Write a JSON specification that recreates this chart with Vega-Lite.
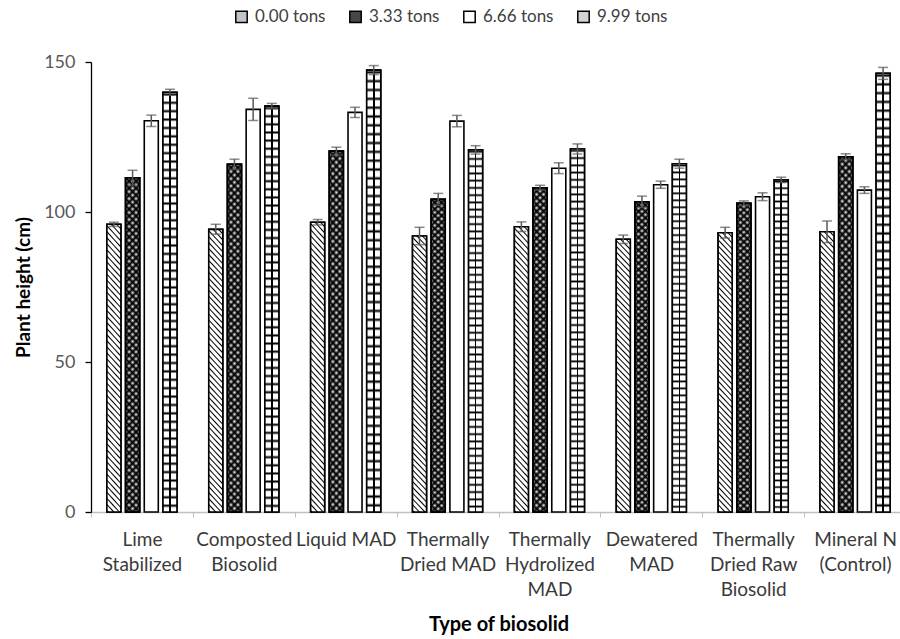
{
"$schema": "https://vega.github.io/schema/vega-lite/v6.json",
"width": 808, "height": 450,
"autosize": "none",
"padding": {"left": 91, "top": 62, "right": 1, "bottom": 127},
"config": {"font": "Lato", "view": {"stroke": null}, "axis": {"grid": false}},
"data": {"values": [
{"biosolid":"Lime Stabilized","dose":"0.00 tons","height":95.9,"low":95.2,"high":96.6},
{"biosolid":"Lime Stabilized","dose":"3.33 tons","height":111.4,"low":108.9,"high":113.9},
{"biosolid":"Lime Stabilized","dose":"6.66 tons","height":130.4,"low":128.5,"high":132.3},
{"biosolid":"Lime Stabilized","dose":"9.99 tons","height":139.9,"low":138.9,"high":140.9},
{"biosolid":"Composted Biosolid","dose":"0.00 tons","height":94.2,"low":92.6,"high":95.9},
{"biosolid":"Composted Biosolid","dose":"3.33 tons","height":115.9,"low":114.2,"high":117.6},
{"biosolid":"Composted Biosolid","dose":"6.66 tons","height":134.2,"low":130.5,"high":137.9},
{"biosolid":"Composted Biosolid","dose":"9.99 tons","height":135.3,"low":134.4,"high":136.2},
{"biosolid":"Liquid MAD","dose":"0.00 tons","height":96.6,"low":95.7,"high":97.5},
{"biosolid":"Liquid MAD","dose":"3.33 tons","height":120.3,"low":119.0,"high":121.6},
{"biosolid":"Liquid MAD","dose":"6.66 tons","height":133.2,"low":131.5,"high":134.9},
{"biosolid":"Liquid MAD","dose":"9.99 tons","height":147.3,"low":145.8,"high":148.8},
{"biosolid":"Thermally Dried MAD","dose":"0.00 tons","height":92.0,"low":89.1,"high":94.9},
{"biosolid":"Thermally Dried MAD","dose":"3.33 tons","height":104.2,"low":102.2,"high":106.2},
{"biosolid":"Thermally Dried MAD","dose":"6.66 tons","height":130.3,"low":128.4,"high":132.2},
{"biosolid":"Thermally Dried MAD","dose":"9.99 tons","height":120.7,"low":119.3,"high":122.1},
{"biosolid":"Thermally Hydrolized MAD","dose":"0.00 tons","height":95.1,"low":93.5,"high":96.7},
{"biosolid":"Thermally Hydrolized MAD","dose":"3.33 tons","height":108.1,"low":107.3,"high":108.9},
{"biosolid":"Thermally Hydrolized MAD","dose":"6.66 tons","height":114.6,"low":112.8,"high":116.4},
{"biosolid":"Thermally Hydrolized MAD","dose":"9.99 tons","height":121.0,"low":119.3,"high":122.7},
{"biosolid":"Dewatered MAD","dose":"0.00 tons","height":90.9,"low":89.5,"high":92.3},
{"biosolid":"Dewatered MAD","dose":"3.33 tons","height":103.4,"low":101.5,"high":105.3},
{"biosolid":"Dewatered MAD","dose":"6.66 tons","height":109.1,"low":107.9,"high":110.3},
{"biosolid":"Dewatered MAD","dose":"9.99 tons","height":116.1,"low":114.6,"high":117.6},
{"biosolid":"Thermally Dried Raw Biosolid","dose":"0.00 tons","height":93.1,"low":91.3,"high":94.9},
{"biosolid":"Thermally Dried Raw Biosolid","dose":"3.33 tons","height":102.9,"low":102.1,"high":103.7},
{"biosolid":"Thermally Dried Raw Biosolid","dose":"6.66 tons","height":105.1,"low":103.8,"high":106.4},
{"biosolid":"Thermally Dried Raw Biosolid","dose":"9.99 tons","height":110.7,"low":109.8,"high":111.6},
{"biosolid":"Mineral N (Control)","dose":"0.00 tons","height":93.4,"low":89.8,"high":97.0},
{"biosolid":"Mineral N (Control)","dose":"3.33 tons","height":118.4,"low":117.4,"high":119.4},
{"biosolid":"Mineral N (Control)","dose":"6.66 tons","height":107.3,"low":106.2,"high":108.4},
{"biosolid":"Mineral N (Control)","dose":"9.99 tons","height":146.2,"low":144.2,"high":148.2}
]},
"encoding": {
  "x": {"field": "biosolid", "type": "nominal",
    "sort": ["Lime Stabilized","Composted Biosolid","Liquid MAD","Thermally Dried MAD","Thermally Hydrolized MAD","Dewatered MAD","Thermally Dried Raw Biosolid","Mineral N (Control)"],
    "scale": {"range": [0, 815], "paddingInner": 0, "paddingOuter": 0},
    "axis": {"title": "Type of biosolid", "titleFontSize": 20, "titleFontWeight": "bold", "titleColor": "#000", "titleY": 118, "titleBaseline": "alphabetic",
      "labelAngle": 0, "labelFontSize": 19, "labelColor": "#3a3a3a", "labelLineHeight": 25, "labelPadding": 13, "labelLimit": 0,
      "tickBand": "extent", "tickSize": 5, "tickColor": "#bfbfbf", "domainColor": "#bfbfbf", "domainWidth": 1.3,
      "labelExpr": "!isValid(datum.value) ? '' : datum.value == 'Liquid MAD' ? 'Liquid MAD' : datum.value == 'Thermally Hydrolized MAD' ? ['Thermally','Hydrolized','MAD'] : datum.value == 'Thermally Dried Raw Biosolid' ? ['Thermally','Dried Raw','Biosolid'] : datum.value == 'Mineral N (Control)' ? ['Mineral N','(Control)'] : datum.value == 'Thermally Dried MAD' ? ['Thermally','Dried MAD'] : split(datum.value, ' ')"}},
  "xOffset": {"field": "dose", "type": "nominal", "sort": ["0.00 tons","3.33 tons","6.66 tons","9.99 tons"],
    "scale": {"domain": ["0.00 tons","3.33 tons","6.66 tons","9.99 tons"], "paddingInner": 0.25, "paddingOuter": 0.85}}
},
"layer": [
{
  "mark": {"type": "bar", "stroke": "#000", "strokeWidth": 1.6},
  "encoding": {
    "y": {"field": "height", "type": "quantitative", "title": "Plant height (cm)", "scale": {"domain": [0, 150], "nice": false},
      "axis": {"title": "Plant height (cm)", "titleFontSize": 19, "titleFontWeight": "bold", "titleColor": "#000", "titlePadding": 10,
        "values": [0, 50, 100, 150], "labelFontSize": 18, "labelColor": "#595959", "labelPadding": 10,
        "tickSize": 6, "tickColor": "#000", "tickWidth": 1.3, "domainColor": "#000", "domainWidth": 1.3}},
    "fill": {"field": "dose", "type": "nominal",
      "scale": {"domain": ["0.00 tons","3.33 tons","6.66 tons","9.99 tons"], "range": ["#c4c4c4", "#474747", "#ffffff", "#d4d4d4"]},
      "legend": {"orient": "none", "direction": "horizontal", "legendX": 142, "legendY": -54, "title": null,
        "symbolType": "square", "symbolSize": 130, "symbolStrokeColor": "#000", "symbolStrokeWidth": 1.5,
        "labelFontSize": 17, "labelColor": "#404040", "columnPadding": 20, "labelOffset": 5, "padding": 0}}
  }
},
{
  "transform": [{"filter": "datum.dose == '0.00 tons'"}],
  "mark": {"type": "bar", "stroke": "#000", "strokeWidth": 1.6, "fill": {"gradient":"linear","x1":0,"y1":1,"x2":0.0559,"y2":-0.0502,"stops":[
{"offset":0,"color":"#fff"},{"offset":0.005,"color":"#000"},{"offset":0.01,"color":"#fff"},
{"offset":0.02,"color":"#fff"},{"offset":0.025,"color":"#000"},{"offset":0.03,"color":"#fff"},
{"offset":0.04,"color":"#fff"},{"offset":0.045,"color":"#000"},{"offset":0.05,"color":"#fff"},
{"offset":0.06,"color":"#fff"},{"offset":0.065,"color":"#000"},{"offset":0.07,"color":"#fff"},
{"offset":0.08,"color":"#fff"},{"offset":0.085,"color":"#000"},{"offset":0.09,"color":"#fff"},
{"offset":0.1,"color":"#fff"},{"offset":0.105,"color":"#000"},{"offset":0.11,"color":"#fff"},
{"offset":0.12,"color":"#fff"},{"offset":0.125,"color":"#000"},{"offset":0.13,"color":"#fff"},
{"offset":0.14,"color":"#fff"},{"offset":0.145,"color":"#000"},{"offset":0.15,"color":"#fff"},
{"offset":0.16,"color":"#fff"},{"offset":0.165,"color":"#000"},{"offset":0.17,"color":"#fff"},
{"offset":0.18,"color":"#fff"},{"offset":0.185,"color":"#000"},{"offset":0.19,"color":"#fff"},
{"offset":0.2,"color":"#fff"},{"offset":0.205,"color":"#000"},{"offset":0.21,"color":"#fff"},
{"offset":0.22,"color":"#fff"},{"offset":0.225,"color":"#000"},{"offset":0.23,"color":"#fff"},
{"offset":0.24,"color":"#fff"},{"offset":0.245,"color":"#000"},{"offset":0.25,"color":"#fff"},
{"offset":0.26,"color":"#fff"},{"offset":0.265,"color":"#000"},{"offset":0.27,"color":"#fff"},
{"offset":0.28,"color":"#fff"},{"offset":0.285,"color":"#000"},{"offset":0.29,"color":"#fff"},
{"offset":0.3,"color":"#fff"},{"offset":0.305,"color":"#000"},{"offset":0.31,"color":"#fff"},
{"offset":0.32,"color":"#fff"},{"offset":0.325,"color":"#000"},{"offset":0.33,"color":"#fff"},
{"offset":0.34,"color":"#fff"},{"offset":0.345,"color":"#000"},{"offset":0.35,"color":"#fff"},
{"offset":0.36,"color":"#fff"},{"offset":0.365,"color":"#000"},{"offset":0.37,"color":"#fff"},
{"offset":0.38,"color":"#fff"},{"offset":0.385,"color":"#000"},{"offset":0.39,"color":"#fff"},
{"offset":0.4,"color":"#fff"},{"offset":0.405,"color":"#000"},{"offset":0.41,"color":"#fff"},
{"offset":0.42,"color":"#fff"},{"offset":0.425,"color":"#000"},{"offset":0.43,"color":"#fff"},
{"offset":0.44,"color":"#fff"},{"offset":0.445,"color":"#000"},{"offset":0.45,"color":"#fff"},
{"offset":0.46,"color":"#fff"},{"offset":0.465,"color":"#000"},{"offset":0.47,"color":"#fff"},
{"offset":0.48,"color":"#fff"},{"offset":0.485,"color":"#000"},{"offset":0.49,"color":"#fff"},
{"offset":0.5,"color":"#fff"},{"offset":0.505,"color":"#000"},{"offset":0.51,"color":"#fff"},
{"offset":0.52,"color":"#fff"},{"offset":0.525,"color":"#000"},{"offset":0.53,"color":"#fff"},
{"offset":0.54,"color":"#fff"},{"offset":0.545,"color":"#000"},{"offset":0.55,"color":"#fff"},
{"offset":0.56,"color":"#fff"},{"offset":0.565,"color":"#000"},{"offset":0.57,"color":"#fff"},
{"offset":0.58,"color":"#fff"},{"offset":0.585,"color":"#000"},{"offset":0.59,"color":"#fff"},
{"offset":0.6,"color":"#fff"},{"offset":0.605,"color":"#000"},{"offset":0.61,"color":"#fff"},
{"offset":0.62,"color":"#fff"},{"offset":0.625,"color":"#000"},{"offset":0.63,"color":"#fff"},
{"offset":0.64,"color":"#fff"},{"offset":0.645,"color":"#000"},{"offset":0.65,"color":"#fff"},
{"offset":0.66,"color":"#fff"},{"offset":0.665,"color":"#000"},{"offset":0.67,"color":"#fff"},
{"offset":0.68,"color":"#fff"},{"offset":0.685,"color":"#000"},{"offset":0.69,"color":"#fff"},
{"offset":0.7,"color":"#fff"},{"offset":0.705,"color":"#000"},{"offset":0.71,"color":"#fff"},
{"offset":0.72,"color":"#fff"},{"offset":0.725,"color":"#000"},{"offset":0.73,"color":"#fff"},
{"offset":0.74,"color":"#fff"},{"offset":0.745,"color":"#000"},{"offset":0.75,"color":"#fff"},
{"offset":0.76,"color":"#fff"},{"offset":0.765,"color":"#000"},{"offset":0.77,"color":"#fff"},
{"offset":0.78,"color":"#fff"},{"offset":0.785,"color":"#000"},{"offset":0.79,"color":"#fff"},
{"offset":0.8,"color":"#fff"},{"offset":0.805,"color":"#000"},{"offset":0.81,"color":"#fff"},
{"offset":0.82,"color":"#fff"},{"offset":0.825,"color":"#000"},{"offset":0.83,"color":"#fff"},
{"offset":0.84,"color":"#fff"},{"offset":0.845,"color":"#000"},{"offset":0.85,"color":"#fff"},
{"offset":0.86,"color":"#fff"},{"offset":0.865,"color":"#000"},{"offset":0.87,"color":"#fff"},
{"offset":0.88,"color":"#fff"},{"offset":0.885,"color":"#000"},{"offset":0.89,"color":"#fff"},
{"offset":0.9,"color":"#fff"},{"offset":0.905,"color":"#000"},{"offset":0.91,"color":"#fff"},
{"offset":0.92,"color":"#fff"},{"offset":0.925,"color":"#000"},{"offset":0.93,"color":"#fff"},
{"offset":0.94,"color":"#fff"},{"offset":0.945,"color":"#000"},{"offset":0.95,"color":"#fff"},
{"offset":0.96,"color":"#fff"},{"offset":0.965,"color":"#000"},{"offset":0.97,"color":"#fff"},
{"offset":0.98,"color":"#fff"},{"offset":0.985,"color":"#000"},{"offset":0.99,"color":"#fff"}
  ]}},
  "encoding": {"y": {"field": "height", "type": "quantitative", "title": "Plant height (cm)"}}
},
{
  "transform": [{"filter": "datum.dose == '3.33 tons'"}],
  "mark": {"type": "bar", "stroke": "#000", "strokeWidth": 1.6, "fill": {"gradient":"linear","x1":0,"y1":1,"x2":0.0437,"y2":-0.0402,"stops":[
{"offset":0,"color":"#000"},{"offset":0.01,"color":"#fff"},{"offset":0.02,"color":"#000"},{"offset":0.03,"color":"#fff"},
{"offset":0.04,"color":"#000"},{"offset":0.05,"color":"#fff"},{"offset":0.06,"color":"#000"},{"offset":0.07,"color":"#fff"},
{"offset":0.08,"color":"#000"},{"offset":0.09,"color":"#fff"},{"offset":0.1,"color":"#000"},{"offset":0.11,"color":"#fff"},
{"offset":0.12,"color":"#000"},{"offset":0.13,"color":"#fff"},{"offset":0.14,"color":"#000"},{"offset":0.15,"color":"#fff"},
{"offset":0.16,"color":"#000"},{"offset":0.17,"color":"#fff"},{"offset":0.18,"color":"#000"},{"offset":0.19,"color":"#fff"},
{"offset":0.2,"color":"#000"},{"offset":0.21,"color":"#fff"},{"offset":0.22,"color":"#000"},{"offset":0.23,"color":"#fff"},
{"offset":0.24,"color":"#000"},{"offset":0.25,"color":"#fff"},{"offset":0.26,"color":"#000"},{"offset":0.27,"color":"#fff"},
{"offset":0.28,"color":"#000"},{"offset":0.29,"color":"#fff"},{"offset":0.3,"color":"#000"},{"offset":0.31,"color":"#fff"},
{"offset":0.32,"color":"#000"},{"offset":0.33,"color":"#fff"},{"offset":0.34,"color":"#000"},{"offset":0.35,"color":"#fff"},
{"offset":0.36,"color":"#000"},{"offset":0.37,"color":"#fff"},{"offset":0.38,"color":"#000"},{"offset":0.39,"color":"#fff"},
{"offset":0.4,"color":"#000"},{"offset":0.41,"color":"#fff"},{"offset":0.42,"color":"#000"},{"offset":0.43,"color":"#fff"},
{"offset":0.44,"color":"#000"},{"offset":0.45,"color":"#fff"},{"offset":0.46,"color":"#000"},{"offset":0.47,"color":"#fff"},
{"offset":0.48,"color":"#000"},{"offset":0.49,"color":"#fff"},{"offset":0.5,"color":"#000"},{"offset":0.51,"color":"#fff"},
{"offset":0.52,"color":"#000"},{"offset":0.53,"color":"#fff"},{"offset":0.54,"color":"#000"},{"offset":0.55,"color":"#fff"},
{"offset":0.56,"color":"#000"},{"offset":0.57,"color":"#fff"},{"offset":0.58,"color":"#000"},{"offset":0.59,"color":"#fff"},
{"offset":0.6,"color":"#000"},{"offset":0.61,"color":"#fff"},{"offset":0.62,"color":"#000"},{"offset":0.63,"color":"#fff"},
{"offset":0.64,"color":"#000"},{"offset":0.65,"color":"#fff"},{"offset":0.66,"color":"#000"},{"offset":0.67,"color":"#fff"},
{"offset":0.68,"color":"#000"},{"offset":0.69,"color":"#fff"},{"offset":0.7,"color":"#000"},{"offset":0.71,"color":"#fff"},
{"offset":0.72,"color":"#000"},{"offset":0.73,"color":"#fff"},{"offset":0.74,"color":"#000"},{"offset":0.75,"color":"#fff"},
{"offset":0.76,"color":"#000"},{"offset":0.77,"color":"#fff"},{"offset":0.78,"color":"#000"},{"offset":0.79,"color":"#fff"},
{"offset":0.8,"color":"#000"},{"offset":0.81,"color":"#fff"},{"offset":0.82,"color":"#000"},{"offset":0.83,"color":"#fff"},
{"offset":0.84,"color":"#000"},{"offset":0.85,"color":"#fff"},{"offset":0.86,"color":"#000"},{"offset":0.87,"color":"#fff"},
{"offset":0.88,"color":"#000"},{"offset":0.89,"color":"#fff"},{"offset":0.9,"color":"#000"},{"offset":0.91,"color":"#fff"},
{"offset":0.92,"color":"#000"},{"offset":0.93,"color":"#fff"},{"offset":0.94,"color":"#000"},{"offset":0.95,"color":"#fff"},
{"offset":0.96,"color":"#000"},{"offset":0.97,"color":"#fff"},{"offset":0.98,"color":"#000"},{"offset":0.99,"color":"#fff"},
{"offset":1,"color":"#000"}
  ]}},
  "encoding": {"y": {"field": "height", "type": "quantitative", "title": "Plant height (cm)"}}
},
{
  "transform": [{"filter": "datum.dose == '3.33 tons'"}],
  "mark": {"type": "bar", "stroke": "#000", "strokeWidth": 1.6, "fill": {"gradient":"linear","x1":0,"y1":0,"x2":0.0437,"y2":1.0402,"stops":[
{"offset":0,"color":"#000"},{"offset":0.01,"color":"rgba(0,0,0,0)"},{"offset":0.02,"color":"#000"},{"offset":0.03,"color":"rgba(0,0,0,0)"},
{"offset":0.04,"color":"#000"},{"offset":0.05,"color":"rgba(0,0,0,0)"},{"offset":0.06,"color":"#000"},{"offset":0.07,"color":"rgba(0,0,0,0)"},
{"offset":0.08,"color":"#000"},{"offset":0.09,"color":"rgba(0,0,0,0)"},{"offset":0.1,"color":"#000"},{"offset":0.11,"color":"rgba(0,0,0,0)"},
{"offset":0.12,"color":"#000"},{"offset":0.13,"color":"rgba(0,0,0,0)"},{"offset":0.14,"color":"#000"},{"offset":0.15,"color":"rgba(0,0,0,0)"},
{"offset":0.16,"color":"#000"},{"offset":0.17,"color":"rgba(0,0,0,0)"},{"offset":0.18,"color":"#000"},{"offset":0.19,"color":"rgba(0,0,0,0)"},
{"offset":0.2,"color":"#000"},{"offset":0.21,"color":"rgba(0,0,0,0)"},{"offset":0.22,"color":"#000"},{"offset":0.23,"color":"rgba(0,0,0,0)"},
{"offset":0.24,"color":"#000"},{"offset":0.25,"color":"rgba(0,0,0,0)"},{"offset":0.26,"color":"#000"},{"offset":0.27,"color":"rgba(0,0,0,0)"},
{"offset":0.28,"color":"#000"},{"offset":0.29,"color":"rgba(0,0,0,0)"},{"offset":0.3,"color":"#000"},{"offset":0.31,"color":"rgba(0,0,0,0)"},
{"offset":0.32,"color":"#000"},{"offset":0.33,"color":"rgba(0,0,0,0)"},{"offset":0.34,"color":"#000"},{"offset":0.35,"color":"rgba(0,0,0,0)"},
{"offset":0.36,"color":"#000"},{"offset":0.37,"color":"rgba(0,0,0,0)"},{"offset":0.38,"color":"#000"},{"offset":0.39,"color":"rgba(0,0,0,0)"},
{"offset":0.4,"color":"#000"},{"offset":0.41,"color":"rgba(0,0,0,0)"},{"offset":0.42,"color":"#000"},{"offset":0.43,"color":"rgba(0,0,0,0)"},
{"offset":0.44,"color":"#000"},{"offset":0.45,"color":"rgba(0,0,0,0)"},{"offset":0.46,"color":"#000"},{"offset":0.47,"color":"rgba(0,0,0,0)"},
{"offset":0.48,"color":"#000"},{"offset":0.49,"color":"rgba(0,0,0,0)"},{"offset":0.5,"color":"#000"},{"offset":0.51,"color":"rgba(0,0,0,0)"},
{"offset":0.52,"color":"#000"},{"offset":0.53,"color":"rgba(0,0,0,0)"},{"offset":0.54,"color":"#000"},{"offset":0.55,"color":"rgba(0,0,0,0)"},
{"offset":0.56,"color":"#000"},{"offset":0.57,"color":"rgba(0,0,0,0)"},{"offset":0.58,"color":"#000"},{"offset":0.59,"color":"rgba(0,0,0,0)"},
{"offset":0.6,"color":"#000"},{"offset":0.61,"color":"rgba(0,0,0,0)"},{"offset":0.62,"color":"#000"},{"offset":0.63,"color":"rgba(0,0,0,0)"},
{"offset":0.64,"color":"#000"},{"offset":0.65,"color":"rgba(0,0,0,0)"},{"offset":0.66,"color":"#000"},{"offset":0.67,"color":"rgba(0,0,0,0)"},
{"offset":0.68,"color":"#000"},{"offset":0.69,"color":"rgba(0,0,0,0)"},{"offset":0.7,"color":"#000"},{"offset":0.71,"color":"rgba(0,0,0,0)"},
{"offset":0.72,"color":"#000"},{"offset":0.73,"color":"rgba(0,0,0,0)"},{"offset":0.74,"color":"#000"},{"offset":0.75,"color":"rgba(0,0,0,0)"},
{"offset":0.76,"color":"#000"},{"offset":0.77,"color":"rgba(0,0,0,0)"},{"offset":0.78,"color":"#000"},{"offset":0.79,"color":"rgba(0,0,0,0)"},
{"offset":0.8,"color":"#000"},{"offset":0.81,"color":"rgba(0,0,0,0)"},{"offset":0.82,"color":"#000"},{"offset":0.83,"color":"rgba(0,0,0,0)"},
{"offset":0.84,"color":"#000"},{"offset":0.85,"color":"rgba(0,0,0,0)"},{"offset":0.86,"color":"#000"},{"offset":0.87,"color":"rgba(0,0,0,0)"},
{"offset":0.88,"color":"#000"},{"offset":0.89,"color":"rgba(0,0,0,0)"},{"offset":0.9,"color":"#000"},{"offset":0.91,"color":"rgba(0,0,0,0)"},
{"offset":0.92,"color":"#000"},{"offset":0.93,"color":"rgba(0,0,0,0)"},{"offset":0.94,"color":"#000"},{"offset":0.95,"color":"rgba(0,0,0,0)"},
{"offset":0.96,"color":"#000"},{"offset":0.97,"color":"rgba(0,0,0,0)"},{"offset":0.98,"color":"#000"},{"offset":0.99,"color":"rgba(0,0,0,0)"},
{"offset":1,"color":"#000"}
  ]}},
  "encoding": {"y": {"field": "height", "type": "quantitative", "title": "Plant height (cm)"}}
},
{
  "transform": [{"filter": "datum.dose == '9.99 tons'"}],
  "mark": {"type": "bar", "stroke": "#000", "strokeWidth": 1.6, "fill": {"gradient":"linear","x1":0,"y1":0,"x2":0,"y2":1,"stops":[
{"offset":0,"color":"#fff"},{"offset":0.005,"color":"#000"},{"offset":0.01,"color":"#fff"},
{"offset":0.02,"color":"#fff"},{"offset":0.025,"color":"#000"},{"offset":0.03,"color":"#fff"},
{"offset":0.04,"color":"#fff"},{"offset":0.045,"color":"#000"},{"offset":0.05,"color":"#fff"},
{"offset":0.06,"color":"#fff"},{"offset":0.065,"color":"#000"},{"offset":0.07,"color":"#fff"},
{"offset":0.08,"color":"#fff"},{"offset":0.085,"color":"#000"},{"offset":0.09,"color":"#fff"},
{"offset":0.1,"color":"#fff"},{"offset":0.105,"color":"#000"},{"offset":0.11,"color":"#fff"},
{"offset":0.12,"color":"#fff"},{"offset":0.125,"color":"#000"},{"offset":0.13,"color":"#fff"},
{"offset":0.14,"color":"#fff"},{"offset":0.145,"color":"#000"},{"offset":0.15,"color":"#fff"},
{"offset":0.16,"color":"#fff"},{"offset":0.165,"color":"#000"},{"offset":0.17,"color":"#fff"},
{"offset":0.18,"color":"#fff"},{"offset":0.185,"color":"#000"},{"offset":0.19,"color":"#fff"},
{"offset":0.2,"color":"#fff"},{"offset":0.205,"color":"#000"},{"offset":0.21,"color":"#fff"},
{"offset":0.22,"color":"#fff"},{"offset":0.225,"color":"#000"},{"offset":0.23,"color":"#fff"},
{"offset":0.24,"color":"#fff"},{"offset":0.245,"color":"#000"},{"offset":0.25,"color":"#fff"},
{"offset":0.26,"color":"#fff"},{"offset":0.265,"color":"#000"},{"offset":0.27,"color":"#fff"},
{"offset":0.28,"color":"#fff"},{"offset":0.285,"color":"#000"},{"offset":0.29,"color":"#fff"},
{"offset":0.3,"color":"#fff"},{"offset":0.305,"color":"#000"},{"offset":0.31,"color":"#fff"},
{"offset":0.32,"color":"#fff"},{"offset":0.325,"color":"#000"},{"offset":0.33,"color":"#fff"},
{"offset":0.34,"color":"#fff"},{"offset":0.345,"color":"#000"},{"offset":0.35,"color":"#fff"},
{"offset":0.36,"color":"#fff"},{"offset":0.365,"color":"#000"},{"offset":0.37,"color":"#fff"},
{"offset":0.38,"color":"#fff"},{"offset":0.385,"color":"#000"},{"offset":0.39,"color":"#fff"},
{"offset":0.4,"color":"#fff"},{"offset":0.405,"color":"#000"},{"offset":0.41,"color":"#fff"},
{"offset":0.42,"color":"#fff"},{"offset":0.425,"color":"#000"},{"offset":0.43,"color":"#fff"},
{"offset":0.44,"color":"#fff"},{"offset":0.445,"color":"#000"},{"offset":0.45,"color":"#fff"},
{"offset":0.46,"color":"#fff"},{"offset":0.465,"color":"#000"},{"offset":0.47,"color":"#fff"},
{"offset":0.48,"color":"#fff"},{"offset":0.485,"color":"#000"},{"offset":0.49,"color":"#fff"},
{"offset":0.5,"color":"#fff"},{"offset":0.505,"color":"#000"},{"offset":0.51,"color":"#fff"},
{"offset":0.52,"color":"#fff"},{"offset":0.525,"color":"#000"},{"offset":0.53,"color":"#fff"},
{"offset":0.54,"color":"#fff"},{"offset":0.545,"color":"#000"},{"offset":0.55,"color":"#fff"},
{"offset":0.56,"color":"#fff"},{"offset":0.565,"color":"#000"},{"offset":0.57,"color":"#fff"},
{"offset":0.58,"color":"#fff"},{"offset":0.585,"color":"#000"},{"offset":0.59,"color":"#fff"},
{"offset":0.6,"color":"#fff"},{"offset":0.605,"color":"#000"},{"offset":0.61,"color":"#fff"},
{"offset":0.62,"color":"#fff"},{"offset":0.625,"color":"#000"},{"offset":0.63,"color":"#fff"},
{"offset":0.64,"color":"#fff"},{"offset":0.645,"color":"#000"},{"offset":0.65,"color":"#fff"},
{"offset":0.66,"color":"#fff"},{"offset":0.665,"color":"#000"},{"offset":0.67,"color":"#fff"},
{"offset":0.68,"color":"#fff"},{"offset":0.685,"color":"#000"},{"offset":0.69,"color":"#fff"},
{"offset":0.7,"color":"#fff"},{"offset":0.705,"color":"#000"},{"offset":0.71,"color":"#fff"},
{"offset":0.72,"color":"#fff"},{"offset":0.725,"color":"#000"},{"offset":0.73,"color":"#fff"},
{"offset":0.74,"color":"#fff"},{"offset":0.745,"color":"#000"},{"offset":0.75,"color":"#fff"},
{"offset":0.76,"color":"#fff"},{"offset":0.765,"color":"#000"},{"offset":0.77,"color":"#fff"},
{"offset":0.78,"color":"#fff"},{"offset":0.785,"color":"#000"},{"offset":0.79,"color":"#fff"},
{"offset":0.8,"color":"#fff"},{"offset":0.805,"color":"#000"},{"offset":0.81,"color":"#fff"},
{"offset":0.82,"color":"#fff"},{"offset":0.825,"color":"#000"},{"offset":0.83,"color":"#fff"},
{"offset":0.84,"color":"#fff"},{"offset":0.845,"color":"#000"},{"offset":0.85,"color":"#fff"},
{"offset":0.86,"color":"#fff"},{"offset":0.865,"color":"#000"},{"offset":0.87,"color":"#fff"},
{"offset":0.88,"color":"#fff"},{"offset":0.885,"color":"#000"},{"offset":0.89,"color":"#fff"},
{"offset":0.9,"color":"#fff"},{"offset":0.905,"color":"#000"},{"offset":0.91,"color":"#fff"},
{"offset":0.92,"color":"#fff"},{"offset":0.925,"color":"#000"},{"offset":0.93,"color":"#fff"},
{"offset":0.94,"color":"#fff"},{"offset":0.945,"color":"#000"},{"offset":0.95,"color":"#fff"},
{"offset":0.96,"color":"#fff"},{"offset":0.965,"color":"#000"},{"offset":0.97,"color":"#fff"},
{"offset":0.98,"color":"#fff"},{"offset":0.985,"color":"#000"},{"offset":0.99,"color":"#fff"}
  ]}},
  "encoding": {"y": {"field": "height", "type": "quantitative", "title": "Plant height (cm)"}}
},
{
  "transform": [{"filter": "datum.dose == '9.99 tons'"}],
  "mark": {"type": "bar", "strokeWidth": 0, "fill": {"gradient":"linear","x1":0,"y1":0,"x2":1,"y2":0,"stops":[
    {"offset":0.44,"color":"rgba(0,0,0,0)"},{"offset":0.44,"color":"#000"},{"offset":0.56,"color":"#000"},{"offset":0.56,"color":"rgba(0,0,0,0)"}]}},
  "encoding": {"y": {"field": "height", "type": "quantitative", "title": "Plant height (cm)"}}
},
{
  "mark": {"type": "rule", "color": "#595959", "strokeWidth": 1.5},
  "encoding": {"y": {"field": "low", "type": "quantitative", "title": "Plant height (cm)"}, "y2": {"field": "high"}}
},
{
  "mark": {"type": "tick", "color": "#595959", "thickness": 1.5, "size": 10},
  "encoding": {"y": {"field": "low", "type": "quantitative", "title": "Plant height (cm)"}}
},
{
  "mark": {"type": "tick", "color": "#595959", "thickness": 1.5, "size": 10},
  "encoding": {"y": {"field": "high", "type": "quantitative", "title": "Plant height (cm)"}}
}
]
}
